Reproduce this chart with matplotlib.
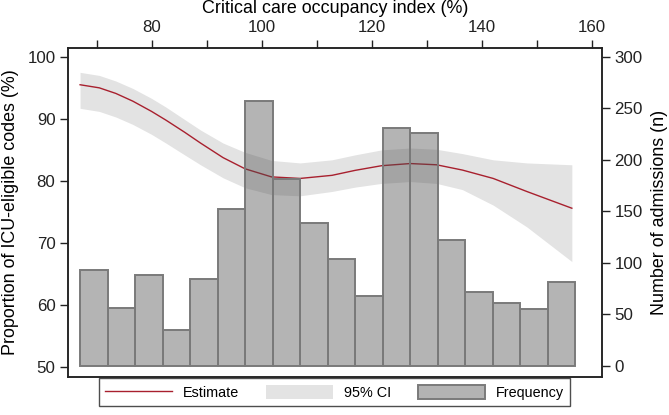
import numpy as np
import matplotlib.pyplot as plt
from matplotlib.patches import Patch
from matplotlib.lines import Line2D

plt.rcParams['font.family'] = ['Liberation Sans', 'DejaVu Sans']

# occupancy index grid for the fitted curve
occ = [67.0, 70.5, 73.5, 76.6, 80.0, 82.6, 86.0, 88.9, 93.0, 97.0, 101.8, 107.0,
       112.8, 117.0, 121.8, 127.0, 131.8, 136.5, 142.1, 148.2, 156.4]
est = [95.5, 95.0, 94.1, 92.85, 91.2, 89.8, 87.85, 86.1, 83.75, 81.95, 80.65, 80.4,
       80.9, 81.7, 82.45, 82.8, 82.6, 81.75, 80.4, 78.3, 75.6]
ci_hi = [97.5, 97.0, 96.1, 94.9, 93.3, 91.9, 89.9, 88.2, 86.1, 84.6, 83.3, 82.9,
         83.4, 84.2, 85.0, 85.3, 85.1, 84.4, 83.4, 82.9, 82.6]
ci_lo = [91.7, 91.2, 90.3, 89.1, 87.5, 86.1, 84.2, 82.6, 80.5, 78.9, 77.8, 77.6,
         78.3, 79.0, 79.6, 79.9, 79.6, 78.6, 76.1, 72.6, 67.0]

# histogram bins (left edges, width 5) and counts
bin_left = [67, 72, 77, 82, 87, 92, 97, 102, 107, 112, 117, 122, 127, 132, 137, 142, 147, 152]
counts = [93, 56, 88, 35, 84, 152, 257, 181, 139, 104, 68, 231, 226, 122, 72, 61, 55, 81]
bin_w = 5

fig = plt.figure(figsize=(6.69, 4.15), dpi=100)
ax = fig.add_axes([0.1016, 0.0916, 0.7984, 0.7939])
ax2 = ax.twinx()

ax.fill_between(occ, ci_lo, ci_hi, color='#e3e3e3', lw=0)
ax.plot(occ, est, color='#a8202e', lw=1, solid_joinstyle='round')

ax2.bar(bin_left, counts, width=bin_w, align='edge', facecolor=(0.3, 0.3, 0.3, 0.42),
        edgecolor='#7a7a7a', linewidth=1.4)

ax.set_xlim(64.8, 161.9)
ax.set_ylim(48.4, 101.5)
ax2.set_ylim(-11, 309)

ax.xaxis.tick_top()
ax.xaxis.set_label_position('top')
xt = list(range(70, 161, 10))
ax.set_xticks(xt)
ax.set_xticklabels([str(v) if v % 20 == 0 else '' for v in xt])
ax.set_yticks([50, 60, 70, 80, 90, 100])
ax2.set_yticks([0, 50, 100, 150, 200, 250, 300])

for a in (ax, ax2):
    a.tick_params(labelsize=12.2, length=6, width=1, colors='#222222', pad=3)
    for s in a.spines.values():
        s.set_linewidth(1.1)
        s.set_color('#222222')

ax.set_xlabel('Critical care occupancy index (%)', fontsize=12.9, labelpad=5)
ax.set_ylabel('Proportion of ICU-eligible codes (%)', fontsize=12.9, labelpad=6)
ax2.set_ylabel('Number of admissions (n)', fontsize=12.9, labelpad=6)

handles = [Line2D([], [], color='#a8202e', lw=1),
           Patch(facecolor='#e3e3e3', edgecolor='none'),
           Patch(facecolor='#b3b3b3', edgecolor='#7a7a7a', linewidth=1.4)]
leg = fig.legend(handles, ['Estimate', '95% CI', 'Frequency'], ncol=3, loc='lower center',
                 bbox_to_anchor=(0.5, 0.004), fontsize=10.4, frameon=True, fancybox=False,
                 edgecolor='#222222', handlelength=4.6, handleheight=1.1,
                 handletextpad=0.75, columnspacing=1.9, borderpad=0.45)
leg.get_frame().set_linewidth(1)

fig.savefig('out.png', dpi=100)
